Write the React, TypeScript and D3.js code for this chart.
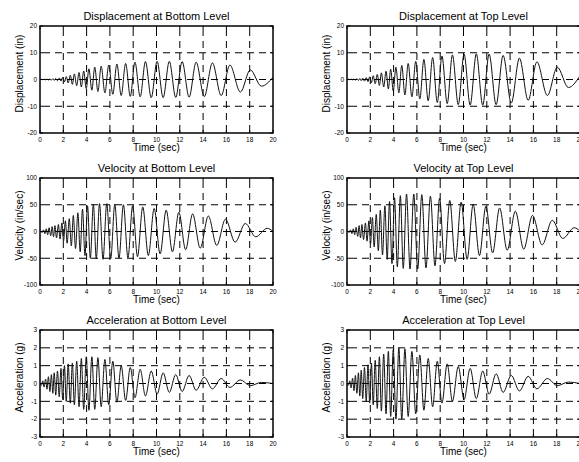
import React, { useRef, useEffect } from 'react'
import * as d3 from 'd3'

const dispTimes = [
  0, 0.12, 0.24, 0.35, 0.48, 0.6, 0.72, 0.85, 0.98, 1.1,
  1.22, 1.35, 1.5, 1.65, 1.8, 1.95, 2.1, 2.25, 2.42, 2.6,
  2.78, 2.95, 3.15, 3.35, 3.55, 3.75, 3.97, 4.2, 4.45, 4.7,
  4.97, 5.25, 5.57, 5.9, 6.25, 6.6, 6.97, 7.35, 7.75, 8.15,
  8.6, 9.05, 9.55, 10.05, 10.57, 11.1, 11.65, 12.2, 12.8, 13.4,
  14.1, 14.8, 15.55, 16.3, 17.2, 18.05, 19.0, 20.0,
]

// times (sec) of the turning points of the velocity traces
const velTimes = [
  0, 0.06, 0.18, 0.3, 0.42, 0.54, 0.66, 0.78, 0.92, 1.04,
  1.16, 1.28, 1.42, 1.58, 1.72, 1.88, 2.02, 2.18, 2.33, 2.51,
  2.69, 2.86, 3.05, 3.25, 3.45, 3.65, 3.86, 4.08, 4.32, 4.58,
  4.83, 5.11, 5.41, 5.73, 6.07, 6.42, 6.78, 7.16, 7.55, 7.95,
  8.37, 8.82, 9.3, 9.8, 10.31, 10.83, 11.37, 11.92, 12.5, 13.1,
  13.75, 14.45, 15.17, 15.92, 16.75, 17.62, 18.52, 19.5, 20,
]

// displacement (in)
const dispBottom = [
  0, 0.05, -0.05, 0.1, -0.1, 0.15, -0.15, 0.2, -0.25, 0.3,
  -0.35, 0.4, -0.45, 0.55, -0.6, 0.8, -0.9, 1.1, -1.3, 1.6,
  -1.8, 2.1, -2.3, 2.6, -2.8, 3.2, -3.4, 4.0, -4.0, 4.6,
  -4.5, 5.0, -5.0, 5.4, -5.5, 5.8, -6.0, 6.0, -6.3, 6.5,
  -6.5, 6.7, -6.8, 6.8, -6.8, 6.8, -6.7, 6.7, -6.6, 6.5,
  -6.4, 6.2, -6.0, 5.4, -4.7, 3.6, -2.5, 0.8,
]
const dispTop = [
  0, 0.1, -0.1, 0.15, -0.15, 0.2, -0.25, 0.3, -0.35, 0.4,
  -0.45, 0.5, -0.6, 0.7, -0.8, 1.0, -1.2, 1.4, -1.6, 1.9,
  -2.2, 2.5, -2.8, 3.1, -3.5, 3.8, -4.3, 4.6, -5.0, 5.3,
  -5.8, 6.0, -6.5, 6.8, -7.3, 7.5, -8.0, 8.2, -8.6, 8.8,
  -9.0, 9.2, -9.4, 9.5, -9.6, 9.6, -9.6, 9.5, -9.4, 9.0,
  -8.8, 8.0, -7.8, 6.6, -6.0, 4.6, -3.0, 1.4,
]

// velocity (in/sec)
const velBottom = [
  0, 1, -2, 3, -4, 5, -6, 7, -8, 9,
  -10, 11, -12, 13, -14, 16, -18, 20, -22, 24,
  -27, 30, -32, 35, -38, 42, -45, 48, -50, 51,
  -51, 52, -52, 52, -51, 51, -50, 50, -49, 48,
  -47, 46, -45, 43, -42, 40, -38, 36, -34, 33,
  -31, 29, -26, 23, -20, 15, -10, 6, 0,
]
const velTop = [
  0, 1, -2, 3, -4, 5, -6, 8, -9, 11,
  -12, 13, -15, 16, -18, 20, -23, 26, -29, 32,
  -36, 40, -44, 48, -52, 56, -60, 63, -66, 67,
  -69, 70, -70, 70, -70, 69, -68, 66, -64, 62,
  -60, 58, -56, 55, -52, 51, -45, 47, -40, 44,
  -35, 38, -33, 30, -25, 21, -13, 7, 1,
]

// acceleration (g)
const accBottom = [
  0, -0.1, 0.15, -0.2, 0.25, -0.32, 0.38, -0.45, 0.5, -0.55,
  0.6, -0.65, 0.7, -0.75, 0.85, -0.9, 1.0, -1.0, 1.1, -1.1,
  1.15, -1.2, 1.25, -1.3, 1.4, -1.45, 1.5, -1.5, 1.5, -1.45,
  1.45, -1.3, 1.35, -1.2, 1.25, -1.05, 1.0, -0.95, 0.9, -0.8,
  0.8, -0.7, 0.7, -0.6, 0.6, -0.5, 0.5, -0.45, 0.45, -0.38,
  0.35, -0.3, 0.28, -0.22, 0.2, -0.12, 0.06, 0,
]
const accTop = [
  0, -0.1, 0.15, -0.25, 0.3, -0.4, 0.45, -0.55, 0.6, -0.7,
  0.75, -0.85, 0.9, -1.0, 1.05, -1.1, 1.15, -1.2, 1.3, -1.4,
  1.5, -1.55, 1.65, -1.7, 1.8, -1.85, 1.9, -2.0, 2.0, -2.0,
  1.95, -1.85, 1.8, -1.7, 1.6, -1.5, 1.4, -1.3, 1.25, -1.1,
  1.1, -1.0, 0.95, -0.9, 0.85, -0.85, 0.7, -0.6, 0.55, -0.5,
  0.45, -0.42, 0.4, -0.3, 0.28, -0.12, 0.08, 0,
]

const timeTicks = [0, 2, 4, 6, 8, 10, 12, 14, 16, 18, 20]
const dispTicks = [-20, -10, 0, 10, 20]
const velTicks = [-100, -50, 0, 50, 100]
const accTicks = [-3, -2, -1, 0, 1, 2, 3]

const panels = [
  { title: 'Displacement at Bottom Level', ylabel: 'Displacement (in)', t: dispTimes, v: dispBottom, ticks: dispTicks, col: 0, row: 0 },
  { title: 'Displacement at Top Level', ylabel: 'Displacement (in)', t: dispTimes, v: dispTop, ticks: dispTicks, col: 1, row: 0 },
  { title: 'Velocity at Bottom Level', ylabel: 'Velocity (in/sec)', t: velTimes, v: velBottom, ticks: velTicks, col: 0, row: 1 },
  { title: 'Velocity at Top Level', ylabel: 'Velocity (in/sec)', t: velTimes, v: velTop, ticks: velTicks, col: 1, row: 1 },
  { title: 'Acceleration at Bottom Level', ylabel: 'Acceleration (g)', t: dispTimes, v: accBottom, ticks: accTicks, col: 0, row: 2 },
  { title: 'Acceleration at Top Level', ylabel: 'Acceleration (g)', t: dispTimes, v: accTop, ticks: accTicks, col: 1, row: 2 },
]

const FONT = '"Liberation Sans", Arial, Helvetica, sans-serif'

const App = () => {
  const svgRef = useRef<SVGSVGElement>(null)

  useEffect(() => {
    const svg = d3.select(svgRef.current)
    svg.selectAll('*').remove()

    const colX = [40, 347]
    const rowY = [26, 178, 330]
    const pw = 233
    const ph = 107

    panels.forEach((p, i) => {
      const g = svg.append('g')
        .attr('transform', `translate(${colX[p.col]},${rowY[p.row]})`)

      const x = d3.scaleLinear().domain([0, 20]).range([0, pw])
      const y = d3.scaleLinear()
        .domain([p.ticks[0], p.ticks[p.ticks.length - 1]])
        .range([ph, 0])

      g.append('clipPath').attr('id', `clip${i}`)
        .append('rect').attr('width', pw).attr('height', ph)

      // dashed grid
      g.selectAll('.vgrid')
        .data(timeTicks.slice(1, -1))
        .enter().append('line')
        .attr('x1', d => x(d)).attr('x2', d => x(d))
        .attr('y1', 0).attr('y2', ph)
        .attr('stroke', '#000').attr('stroke-width', 1)
        .attr('stroke-dasharray', '7,5')
        .attr('stroke-dashoffset', -3)
      g.selectAll('.hgrid')
        .data(p.ticks.slice(1, -1))
        .enter().append('line')
        .attr('x1', 0).attr('x2', pw)
        .attr('y1', d => y(d)).attr('y2', d => y(d))
        .attr('stroke', '#000').attr('stroke-width', 1)
        .attr('stroke-dasharray', '7,5')
        .attr('stroke-dashoffset', -3)

      // response trace
      const pts = p.t.map((t, k) => [t, p.v[k]] as [number, number])
      const line = d3.line<[number, number]>()
        .x(d => x(d[0]))
        .y(d => y(d[1]))
        .curve(d3.curveMonotoneX)
      g.append('path')
        .attr('d', line(pts))
        .attr('fill', 'none')
        .attr('stroke', '#111')
        .attr('stroke-width', 1)
        .attr('clip-path', `url(#clip${i})`)

      // box
      g.append('rect')
        .attr('width', pw).attr('height', ph)
        .attr('fill', 'none').attr('stroke', '#000').attr('stroke-width', 1.5)

      // inward ticks on all sides
      timeTicks.forEach(t => {
        g.append('line').attr('x1', x(t)).attr('x2', x(t)).attr('y1', ph).attr('y2', ph - 3).attr('stroke', '#000')
        g.append('line').attr('x1', x(t)).attr('x2', x(t)).attr('y1', 0).attr('y2', 3).attr('stroke', '#000')
      })
      p.ticks.forEach(v => {
        g.append('line').attr('x1', 0).attr('x2', 3).attr('y1', y(v)).attr('y2', y(v)).attr('stroke', '#000')
        g.append('line').attr('x1', pw).attr('x2', pw - 3).attr('y1', y(v)).attr('y2', y(v)).attr('stroke', '#000')
      })

      // tick labels
      g.selectAll('.xl')
        .data(timeTicks)
        .enter().append('text')
        .attr('x', d => x(d)).attr('y', ph + 9)
        .attr('text-anchor', 'middle')
        .attr('font-size', 6.5).attr('font-family', FONT)
        .text(d => d)
      g.selectAll('.yl')
        .data(p.ticks)
        .enter().append('text')
        .attr('x', -3).attr('y', d => y(d) + 2.3)
        .attr('text-anchor', 'end')
        .attr('font-size', 6.5).attr('font-family', FONT)
        .text(d => d)

      // titles
      g.append('text')
        .attr('x', pw / 2).attr('y', -6)
        .attr('text-anchor', 'middle')
        .attr('font-size', 11).attr('font-family', FONT)
        .text(p.title)
      g.append('text')
        .attr('x', pw / 2).attr('y', ph + 18)
        .attr('text-anchor', 'middle')
        .attr('font-size', 10).attr('font-family', FONT)
        .text('Time (sec)')
      g.append('text')
        .attr('transform', `translate(-17,${ph / 2 - 6}) rotate(-90)`)
        .attr('text-anchor', 'middle')
        .attr('font-size', 10).attr('font-family', FONT)
        .text(p.ylabel)
    })
  }, [])

  return (
    <div style={{ position: 'absolute', left: 0, top: 0 }}>
      <svg ref={svgRef} width={579} height={462} style={{ display: 'block', background: '#fff' }}></svg>
    </div>
  )
}

export default App
